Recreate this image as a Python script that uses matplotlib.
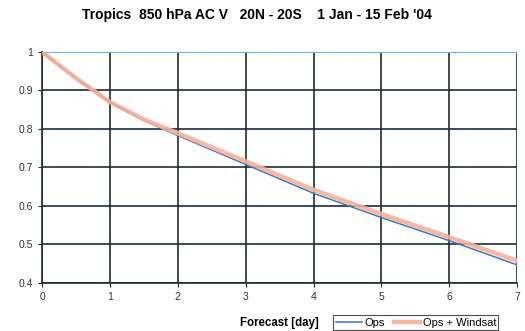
import matplotlib.pyplot as plt

plt.rcParams['font.family'] = ['Liberation Sans', 'DejaVu Sans']

days = [0, 0.5, 1, 1.5, 2, 3, 4, 5, 6, 7]
ops = [1.0, 0.932, 0.87, 0.822, 0.783, 0.708, 0.633, 0.570, 0.510, 0.447]
ops_windsat = [1.0, 0.932, 0.87, 0.825, 0.789, 0.716, 0.642, 0.579, 0.519, 0.458]

fig = plt.figure(figsize=(5.25, 3.31), dpi=100)
ax = fig.add_axes([0.08, 0.145, 0.905, 0.698])

ax.plot(days, ops, color='#3a78c0', lw=1.1, label='Ops', zorder=3)
ax.plot(days, ops_windsat, color='#f6b09a', lw=3.2, alpha=0.9, label='Ops + Windsat', zorder=4)

ax.set_xlim(0, 7)
ax.set_ylim(0.4, 1.0)
ax.set_xticks(range(8))
ax.set_yticks([0.4, 0.5, 0.6, 0.7, 0.8, 0.9, 1])
ax.set_yticklabels(['0.4', '0.5', '0.6', '0.7', '0.8', '0.9', '1'])
ax.grid(True, color='#1c2c38', lw=1.2)
ax.set_axisbelow(True)
ax.tick_params(labelsize=7.5, length=3, color='#1c2c38', labelcolor='#333333')
for s in ['top', 'right']:
    ax.spines[s].set_visible(False)
for s in ['left', 'bottom']:
    ax.spines[s].set_color('#1c2c38')
    ax.spines[s].set_linewidth(1.2)
ax.axhline(1.0, color='#8cc4dc', lw=1.2, zorder=2)

fig.text(0.49, 0.955, "Tropics  850 hPa AC V   20N - 20S    1 Jan - 15 Feb '04",
         ha='center', va='center', fontsize=10, fontweight='bold')
fig.text(0.532, 0.025, 'Forecast [day]', ha='center', va='center', fontsize=8.3, fontweight='bold')

leg = fig.legend(loc='lower left', bbox_to_anchor=(0.633, 0.0), ncol=2, fontsize=8,
                 frameon=True, fancybox=False, handlelength=2.4, columnspacing=0.8,
                 handletextpad=0.2, borderpad=0.2, borderaxespad=0.1)
leg.get_frame().set_edgecolor('#222222')
leg.get_frame().set_linewidth(0.8)

plt.savefig('out.png', dpi=100)
